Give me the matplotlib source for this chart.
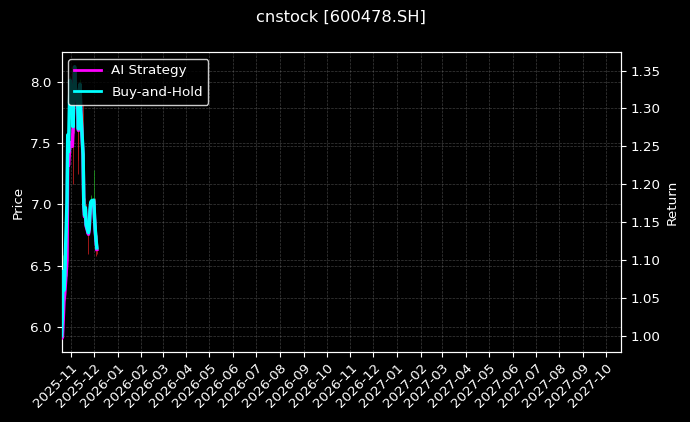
import matplotlib
matplotlib.use("Agg")
import matplotlib.pyplot as plt
import matplotlib.dates as mdates
import numpy as np
import pandas as pd

# ---- data ----
dates = ["2025-10-20", "2025-10-21", "2025-10-22", "2025-10-23", "2025-10-24",
         "2025-10-27", "2025-10-28", "2025-10-29", "2025-10-30", "2025-10-31",
         "2025-11-03", "2025-11-04", "2025-11-05", "2025-11-06", "2025-11-07",
         "2025-11-10", "2025-11-11", "2025-11-12", "2025-11-13", "2025-11-14",
         "2025-11-17", "2025-11-18", "2025-11-19", "2025-11-20", "2025-11-21",
         "2025-11-24", "2025-11-25", "2025-11-26", "2025-11-27", "2025-11-28",
         "2025-12-01", "2025-12-02", "2025-12-03", "2025-12-04", "2025-12-05"]
opens  = [5.95, 5.98, 6.16, 6.50, 6.34, 6.45, 7.05, 7.58, 7.45, 7.75,
          8.00, 7.82, 7.60, 7.92, 8.05, 7.90, 7.78, 7.62, 7.88, 7.93,
          7.74, 7.38, 7.00, 6.92, 6.97, 6.84, 6.80, 6.83, 6.95, 7.01,
          7.03, 7.02, 6.88, 6.79, 6.71]
highs  = [6.05, 6.20, 6.59, 6.55, 6.48, 7.05, 7.60, 7.65, 7.80, 8.05,
          8.13, 7.90, 7.95, 8.12, 8.10, 7.98, 7.85, 7.92, 8.02, 7.98,
          7.82, 7.42, 7.05, 7.02, 7.00, 6.88, 6.86, 6.98, 7.06, 7.08,
          7.28, 7.05, 6.92, 6.83, 6.75]
lows   = [5.91, 5.95, 6.12, 6.28, 6.30, 6.42, 7.00, 7.35, 7.40, 7.70,
          7.80, 7.17, 7.58, 7.88, 7.85, 7.25, 7.36, 7.60, 7.80, 7.70,
          7.35, 6.98, 6.88, 6.90, 6.80, 6.60, 6.75, 6.80, 6.92, 6.95,
          6.96, 6.85, 6.70, 6.58, 6.60]
closes = [5.97, 6.15, 6.48, 6.33, 6.42, 7.02, 7.55, 7.42, 7.72, 7.98,
          7.85, 7.62, 7.90, 8.09, 7.92, 7.80, 7.60, 7.88, 7.95, 7.75,
          7.40, 7.00, 6.92, 6.98, 6.85, 6.78, 6.82, 6.95, 7.02, 7.03,
          7.04, 6.90, 6.80, 6.72, 6.66]
ai_strategy = [0.997, 0.998, 1.020, 1.045, 1.055, 1.100, 1.235, 1.225, 1.240, 1.255,
               1.250, 1.274, 1.321, 1.353, 1.325, 1.305, 1.271, 1.318, 1.330, 1.296,
               1.237, 1.171, 1.157, 1.167, 1.145, 1.134, 1.140, 1.162, 1.174, 1.176,
               1.177, 1.154, 1.137, 1.124, 1.114]
buy_and_hold = [1.000, 1.030, 1.085, 1.060, 1.075, 1.176, 1.265, 1.243, 1.293, 1.337,
                1.315, 1.276, 1.323, 1.355, 1.327, 1.307, 1.273, 1.320, 1.332, 1.298,
                1.240, 1.173, 1.159, 1.169, 1.147, 1.136, 1.142, 1.164, 1.176, 1.178,
                1.179, 1.156, 1.139, 1.126, 1.116]
x_start = "2025-10-20"
x_end = "2027-10-20"
title = "cnstock [600478.SH]"

# ---- plot ----
plt.rcParams['font.family'] = ['DejaVu Sans']
fig = plt.figure(figsize=(6.9, 4.22), dpi=100, facecolor='black')
ax = fig.add_axes([0.0893, 0.1666, 0.8101, 0.7094])
ax.set_facecolor('black')

d = pd.to_datetime(dates)
xn = mdates.date2num(d)
o = np.array(opens); h = np.array(highs); l = np.array(lows); c = np.array(closes)
up = c >= o
col = np.where(up, '#1f9e1f', '#c81e1e')
ax.vlines(xn, l, h, colors=col, linewidth=0.7, alpha=0.8, zorder=2)
ax.bar(xn, np.abs(c - o), bottom=np.minimum(o, c), width=0.6, color=col,
       edgecolor=col, linewidth=0.3, alpha=0.8, zorder=2)
ax.set_ylim(5.80, 8.24)
ax.set_xlim(mdates.date2num(pd.Timestamp(x_start)), mdates.date2num(pd.Timestamp(x_end)))

ax2 = ax.twinx()
ax2.plot(xn, ai_strategy, color='#ff00ff', linewidth=2.5, label='AI Strategy', zorder=3)
ax2.plot(xn, buy_and_hold, color='#00ffff', linewidth=2.5, label='Buy-and-Hold', zorder=4)
ax2.set_ylim(0.979, 1.374)
ax2.set_yticks([1.00, 1.05, 1.10, 1.15, 1.20, 1.25, 1.30, 1.35])
ax2.yaxis.set_major_formatter(matplotlib.ticker.FormatStrFormatter('%.2f'))

ax.xaxis.set_major_locator(mdates.MonthLocator())
ax.xaxis.set_major_formatter(mdates.DateFormatter('%Y-%m'))
ax.set_yticks([6.0, 6.5, 7.0, 7.5, 8.0])

fs = 9.7
for a in (ax, ax2):
    a.tick_params(colors='white', labelsize=fs)
    for s in a.spines.values():
        s.set_color('white')
    a.grid(True, color='#888888', linestyle='--', linewidth=0.5, alpha=0.45)
plt.setp(ax.get_xticklabels(), rotation=45, ha='right', rotation_mode='anchor')
ax.set_ylabel('Price', color='white', fontsize=fs)
ax2.set_ylabel('Return', color='white', fontsize=fs)

leg = ax2.legend(loc='upper left', fontsize=fs, facecolor='black', edgecolor='white',
                 framealpha=0.8, labelcolor='white', labelspacing=0.65)
for line in leg.get_lines():
    line.set_linewidth(2.0)

fig.text((0.0893 + 0.8994) / 2, 1 - 17.5 / 422, title, color='white',
         fontsize=11.7, ha='center', va='center')

fig.savefig('out.png', dpi=100, facecolor='black')
